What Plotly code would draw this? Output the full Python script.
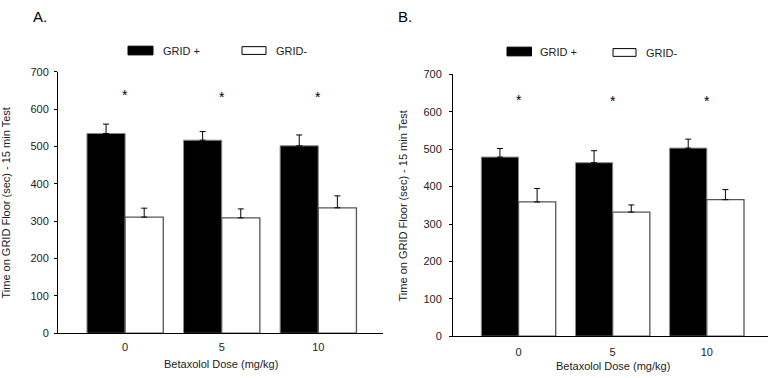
import plotly.graph_objects as go

W, H = 774, 378

categories = ["0", "5", "10"]
tick_vals_y = [0, 100, 200, 300, 400, 500, 600, 700]

# Panel A
a_grid_plus = [535, 517, 502]
a_grid_plus_err = [25, 23, 29]
a_grid_minus = [311, 309, 336]
a_grid_minus_err = [24, 24, 32]

# Panel B
b_grid_plus = [479, 464, 503]
b_grid_plus_err = [23, 32, 24]
b_grid_minus = [359, 332, 365]
b_grid_minus_err = [36, 19, 27]

series_names = ["GRID +", "GRID-"]
panel_labels = ["A.", "B."]
y_title = "Time on GRID Floor (sec) - 15 min Test"
x_title = "Betaxolol Dose (mg/kg)"

FONT = "Liberation Sans, Arial, sans-serif"

def px_x(p):
    return p / W

def px_y(p):
    return 1 - p / H

fig = go.Figure()

def add_panel(xa, ya, plus, plus_err, minus, minus_err):
    fig.add_trace(go.Bar(
        x=categories, y=plus, name=series_names[0], xaxis=xa, yaxis=ya,
        marker=dict(color="black", line=dict(color="#8a8a8a", width=1)),
        error_y=dict(type="data", symmetric=False, array=plus_err,
                     arrayminus=[0] * len(plus_err), color="black",
                     thickness=1, width=3),
        showlegend=False, hoverinfo="skip",
    ))
    fig.add_trace(go.Bar(
        x=categories, y=minus, name=series_names[1], xaxis=xa, yaxis=ya,
        marker=dict(color="white", line=dict(color="#555555", width=1.3)),
        error_y=dict(type="data", symmetric=False, array=minus_err,
                     arrayminus=[0] * len(minus_err), color="black",
                     thickness=1, width=3),
        showlegend=False, hoverinfo="skip",
    ))

add_panel("x", "y", a_grid_plus, a_grid_plus_err, a_grid_minus, a_grid_minus_err)
add_panel("x2", "y2", b_grid_plus, b_grid_plus_err, b_grid_minus, b_grid_minus_err)

axis_common_y = dict(
    range=[0, 700], tickvals=tick_vals_y, showgrid=False, zeroline=False,
    showline=True, linecolor="black", linewidth=1, ticks="outside",
    ticklen=3, tickcolor="black", tickfont=dict(family=FONT, size=11, color="#222"),
    fixedrange=True,
)
axis_common_x = dict(
    type="category", showgrid=False, zeroline=False, showline=True,
    linecolor="black", linewidth=1, ticks="",
    tickfont=dict(family=FONT, size=11, color="#222"), fixedrange=True,
)

fig.update_layout(
    width=W, height=H,
    margin=dict(l=0, r=0, t=0, b=0),
    paper_bgcolor="white", plot_bgcolor="white",
    barmode="group", bargap=0.21, bargroupgap=0,
    xaxis=dict(domain=[px_x(58), px_x(383)], anchor="y", range=[-0.695, 2.67],
               ticklabelstandoff=4, **axis_common_x),
    yaxis=dict(domain=[px_y(338), px_y(68)], anchor="x", ticklabelstandoff=3,
               **axis_common_y),
    xaxis2=dict(domain=[px_x(453), px_x(768)], anchor="y2", range=[-0.696, 2.65],
                ticklabelstandoff=6, **axis_common_x),
    yaxis2=dict(domain=[px_y(341), px_y(70.7)], anchor="x2", ticklabelstandoff=5,
                **axis_common_y),
    showlegend=False,
    hovermode=False,
)

annotations = []
shapes = []

# Significance stars
for xa, ya, star_y in (("x", "y", 633), ("x2", "y2", 628)):
    for i in range(len(categories)):
        annotations.append(dict(
            x=i, y=star_y + (4 if i == 0 else 0), xref=xa, yref=ya, text="*",
            showarrow=False, font=dict(family=FONT, size=14, color="black"),
            xanchor="center", yanchor="middle",
        ))

# Panel labels
for lbl, x in zip(panel_labels, (31, 396)):
    annotations.append(dict(
        x=px_x(x), y=px_y(11), xref="paper", yref="paper", text=lbl,
        showarrow=False, font=dict(family=FONT, size=15, color="black"),
        xanchor="left", yanchor="middle",
    ))

# Axis titles
for x, y in ((6, 204), (403, 206)):
    annotations.append(dict(
        x=px_x(x), y=px_y(y), xref="paper", yref="paper", text=y_title,
        textangle=-90, showarrow=False,
        font=dict(family=FONT, size=11, color="#222"),
        xanchor="center", yanchor="middle",
    ))
for x, y in ((221, 370), (613, 372)):
    annotations.append(dict(
        x=px_x(x), y=px_y(y), xref="paper", yref="paper", text=x_title,
        showarrow=False, font=dict(family=FONT, size=11, color="#222"),
        xanchor="center", yanchor="middle",
    ))

# Legends (swatches + labels)
legend_specs = [
    ((128, 153, 41.5, 50.5, 161), (242, 266, 42, 50, 274)),
    ((507, 531.5, 42.5, 51.5, 538), (613, 636, 44, 52, 644)),
]
for spec in legend_specs:
    for j, (x0, x1, y0, y1, tx) in enumerate(spec):
        fill = "black" if j == 0 else "white"
        shapes.append(dict(
            type="rect", xref="paper", yref="paper",
            x0=px_x(x0), x1=px_x(x1), y0=px_y(y1), y1=px_y(y0),
            fillcolor=fill, line=dict(color="black", width=1),
        ))
        annotations.append(dict(
            x=px_x(tx), y=px_y((y0 + y1) / 2 + 0.5), xref="paper", yref="paper",
            text=series_names[j], showarrow=False,
            font=dict(family=FONT, size=11, color="#222"),
            xanchor="left", yanchor="middle",
        ))

fig.update_layout(annotations=annotations, shapes=shapes)

fig.write_html(
    "out.html",
    config={"displayModeBar": False, "staticPlot": True},
    post_script="document.body.style.margin='0';document.body.style.overflow='hidden';",
)
